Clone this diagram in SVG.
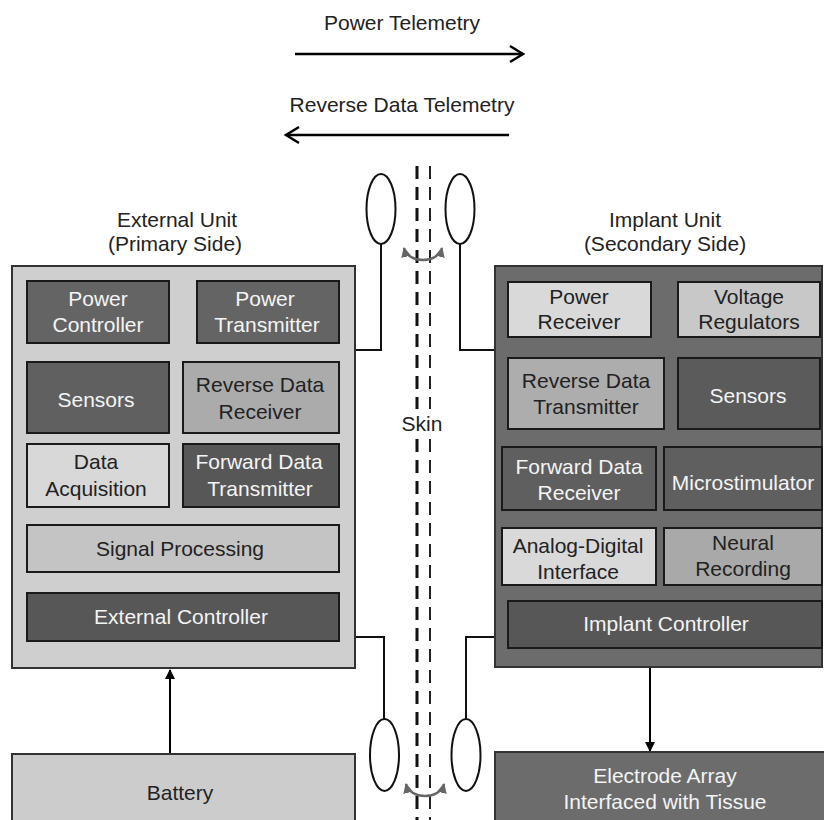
<svg xmlns="http://www.w3.org/2000/svg" width="824" height="820" viewBox="0 0 824 820">
<style>
text{font-family:"Liberation Sans",Arial,sans-serif;font-size:21px;text-anchor:middle}
.dk{fill:#f4f4f4}
.lt{fill:#222}
.box{stroke:#1a1a1a;stroke-width:2}
.outer{stroke:#333;stroke-width:2}
.wire{fill:none;stroke:#111;stroke-width:2}
.coil{fill:#fff;stroke:#111;stroke-width:2}
.tele{fill:none;stroke:#000;stroke-width:2.5}
.bow{fill:none;stroke:#666;stroke-width:2.5}
</style>
<defs>
<marker id="ah" markerWidth="10" markerHeight="10" refX="9" refY="5" orient="auto" markerUnits="userSpaceOnUse" viewBox="0 0 10 10">
<path d="M0,0 L10,5 L0,10 z" fill="#000"/>
</marker>
<marker id="gh" markerWidth="10" markerHeight="10" refX="9" refY="5" orient="auto-start-reverse" markerUnits="userSpaceOnUse" viewBox="0 0 10 10">
<path d="M0,0 L10,5 L0,10 z" fill="#666"/>
</marker>
</defs>
<rect width="824" height="820" fill="#fff"/>

<g id="telemetry">
<text x="402" y="30" class="lt">Power Telemetry</text>
<line x1="295" y1="54" x2="523" y2="54" class="tele"/>
<polyline points="510,46 523,54 510,62" class="tele"/>
<text x="402" y="112" class="lt">Reverse Data Telemetry</text>
<line x1="286" y1="135" x2="509" y2="135" class="tele"/>
<polyline points="299,127 286,135 299,143" class="tele"/>
</g>

<g id="skin">
<line x1="417" y1="166" x2="417" y2="820" stroke="#111" stroke-width="3" stroke-dasharray="13,8"/>
<line x1="430" y1="166" x2="430" y2="820" stroke="#222" stroke-width="2" stroke-dasharray="13,8"/>
<rect x="399" y="409" width="46" height="28" fill="#fff"/>
<text x="422" y="431" class="lt">Skin</text>
</g>

<g id="external-label">
<text x="177" y="227" class="lt">External Unit</text>
<text x="175" y="251" class="lt">(Primary Side)</text>
</g>
<g id="implant-label">
<text x="665" y="227" class="lt">Implant Unit</text>
<text x="665" y="251" class="lt">(Secondary Side)</text>
</g>

<g id="connectors">
<polyline points="356,350 381,350 381,244" class="wire"/>
<polyline points="495,350 460,350 460,244" class="wire"/>
<polyline points="355,637 384,637 384,719" class="wire"/>
<polyline points="495,637 466,637 466,719" class="wire"/>
<path d="M404,248 C408,264 438,264 442,248" class="bow" marker-start="url(#gh)" marker-end="url(#gh)"/>
<path d="M406,784 C410,800 440,800 444,784" class="bow" marker-start="url(#gh)" marker-end="url(#gh)"/>
<line x1="170" y1="754" x2="170" y2="670" stroke="#000" stroke-width="2" marker-end="url(#ah)"/>
<line x1="650" y1="667" x2="650" y2="751" stroke="#000" stroke-width="2" marker-end="url(#ah)"/>
</g>

<g id="coils">
<ellipse cx="381" cy="209" rx="14.5" ry="35" class="coil"/>
<ellipse cx="460" cy="209" rx="14.5" ry="35" class="coil"/>
<ellipse cx="384.5" cy="755" rx="14.5" ry="36" class="coil"/>
<ellipse cx="466" cy="755" rx="14.5" ry="36" class="coil"/>
</g>

<g id="external-unit">
<rect x="12" y="266" width="343" height="402" fill="#cfcfcf" class="outer"/>
</g>
<g id="power-controller">
<rect x="27" y="281" width="142" height="62" fill="#646464" class="box"/>
<text x="98" y="306" class="dk">Power</text><text x="98" y="332" class="dk">Controller</text>
</g>
<g id="power-transmitter">
<rect x="197" y="281" width="142" height="62" fill="#646464" class="box"/>
<text x="265" y="306" class="dk">Power</text><text x="267" y="332" class="dk">Transmitter</text>
</g>
<g id="ext-sensors">
<rect x="27" y="362" width="142" height="71" fill="#606060" class="box"/>
<text x="96" y="407" class="dk">Sensors</text>
</g>
<g id="reverse-data-receiver">
<rect x="183" y="362" width="156" height="71" fill="#ababab" class="box"/>
<text x="260" y="392" class="lt">Reverse Data</text><text x="260" y="419" class="lt">Receiver</text>
</g>
<g id="data-acquisition">
<rect x="27" y="444" width="142" height="63" fill="#d8d8d8" class="box"/>
<text x="96" y="469" class="lt">Data</text><text x="96" y="496" class="lt">Acquisition</text>
</g>
<g id="forward-data-transmitter">
<rect x="183" y="444" width="156" height="63" fill="#575757" class="box"/>
<text x="259" y="469" class="dk">Forward Data</text><text x="260" y="496" class="dk">Transmitter</text>
</g>
<g id="signal-processing">
<rect x="27" y="525" width="312" height="47" fill="#c4c4c4" class="box"/>
<text x="180" y="556" class="lt">Signal Processing</text>
</g>
<g id="external-controller">
<rect x="27" y="593" width="312" height="48" fill="#575757" class="box"/>
<text x="181" y="624" class="dk">External Controller</text>
</g>

<g id="implant-unit">
<rect x="495" y="266" width="327" height="401" fill="#6c6c6c" class="outer"/>
</g>
<g id="power-receiver">
<rect x="508" y="282" width="143" height="55" fill="#d9d9d9" class="box"/>
<text x="579" y="304" class="lt">Power</text><text x="579" y="329" class="lt">Receiver</text>
</g>
<g id="voltage-regulators">
<rect x="678" y="282" width="142" height="55" fill="#c8c8c8" class="box"/>
<text x="749" y="304" class="lt">Voltage</text><text x="749" y="329" class="lt">Regulators</text>
</g>
<g id="reverse-data-transmitter">
<rect x="508" y="358" width="156" height="71" fill="#adadad" class="box"/>
<text x="586" y="388" class="lt">Reverse Data</text><text x="586" y="414" class="lt">Transmitter</text>
</g>
<g id="imp-sensors">
<rect x="678" y="358" width="142" height="71" fill="#5b5b5b" class="box"/>
<text x="748" y="403" class="dk">Sensors</text>
</g>
<g id="forward-data-receiver">
<rect x="502" y="447" width="154" height="63" fill="#5f5f5f" class="box"/>
<text x="579" y="474" class="dk">Forward Data</text><text x="579" y="500" class="dk">Receiver</text>
</g>
<g id="microstimulator">
<rect x="664" y="447" width="158" height="63" fill="#5f5f5f" class="box"/>
<text x="743" y="490" class="dk">Microstimulator</text>
</g>
<g id="analog-digital-interface">
<rect x="502" y="528" width="154" height="57" fill="#d9d9d9" class="box"/>
<text x="578" y="553" class="lt">Analog-Digital</text><text x="578" y="579" class="lt">Interface</text>
</g>
<g id="neural-recording">
<rect x="664" y="528" width="158" height="57" fill="#a9a9a9" class="box"/>
<text x="743" y="550" class="lt">Neural</text><text x="743" y="576" class="lt">Recording</text>
</g>
<g id="implant-controller">
<rect x="508" y="601" width="314" height="47" fill="#575757" class="box"/>
<text x="666" y="631" class="dk">Implant Controller</text>
</g>

<g id="battery">
<rect x="12" y="754" width="343" height="70" fill="#cccccc" class="outer"/>
<text x="180" y="800" class="lt">Battery</text>
</g>
<g id="electrode-array">
<rect x="495" y="752" width="330" height="72" fill="#6c6c6c" class="outer"/>
<text x="665" y="783" class="dk">Electrode Array</text>
<text x="665" y="809" class="dk">Interfaced with Tissue</text>
</g>
</svg>
